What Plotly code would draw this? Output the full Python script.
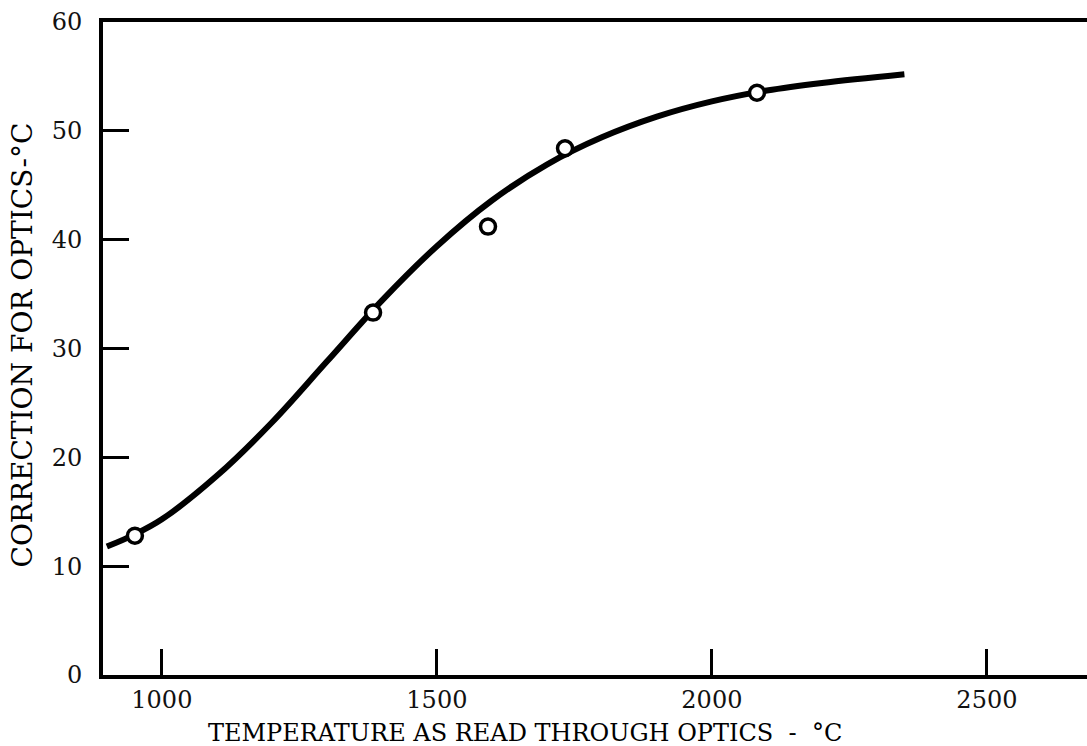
import plotly.graph_objects as go

# smooth curve
curve_x = [900, 950, 1000, 1100, 1200, 1300, 1400, 1500, 1600, 1700,
           1800, 1900, 2000, 2100, 2200, 2350]
curve_y = [11.8, 12.9, 14.3, 18.3, 23.2, 28.8, 34.4, 39.4, 43.6, 46.9,
           49.4, 51.3, 52.7, 53.7, 54.4, 55.2]

# measured points (open circles)
data_x = [951, 1384, 1593, 1733, 2082]
data_y = [12.8, 33.3, 41.2, 48.4, 53.5]

x_ticks = [1000, 1500, 2000, 2500]
y_ticks = [0, 10, 20, 30, 40, 50, 60]

FONT = "DejaVu Serif"

fig = go.Figure()

fig.add_trace(go.Scatter(
    x=curve_x, y=curve_y,
    mode='lines',
    line=dict(color='black', width=6, shape='spline', smoothing=1.0),
    hoverinfo='skip'
))

fig.add_trace(go.Scatter(
    x=data_x, y=data_y,
    mode='markers',
    marker=dict(size=15, color='white', line=dict(color='black', width=3.5)),
))

fig.update_layout(
    width=1087, height=746,
    paper_bgcolor='white', plot_bgcolor='white',
    showlegend=False,
    margin=dict(l=103, r=0, t=22, b=71),
    font=dict(family=FONT, color='black', size=24),
    xaxis=dict(
        range=[893, 2682],
        tickvals=x_ticks,
        ticks='inside', ticklen=26, tickwidth=3, tickcolor='black',
        showline=True, linecolor='black', linewidth=3.5, mirror=True,
        showgrid=False, zeroline=False,
        tickfont=dict(family=FONT, size=24, color='#111'),
        ticklabelstandoff=0,
    ),
    yaxis=dict(
        range=[0, 60],
        tickvals=y_ticks,
        ticks='inside', ticklen=26, tickwidth=3, tickcolor='black',
        showline=True, linecolor='black', linewidth=4,
        showgrid=False, zeroline=False,
        tickfont=dict(family=FONT, size=24, color='#111'),
        ticklabelstandoff=12,
    ),
    annotations=[
        dict(text="TEMPERATURE AS READ THROUGH OPTICS  -  °C",
             xref='paper', yref='paper', x=0.429, y=-0.089,
             xanchor='center', yanchor='middle', showarrow=False,
             font=dict(family=FONT, size=24, color='black')),
        dict(text="CORRECTION FOR OPTICS-°C",
             xref='paper', yref='paper', x=-0.082, y=0.505,
             xanchor='center', yanchor='middle', showarrow=False, textangle=-90,
             font=dict(family=FONT, size=28, color='black')),
    ],
)

# drop the default page margin so the figure sits at the window corner
fig.write_html("out.html",
               config={'displayModeBar': False},
               post_script="document.body.style.margin='0';"
                           "document.body.style.overflow='hidden';")
